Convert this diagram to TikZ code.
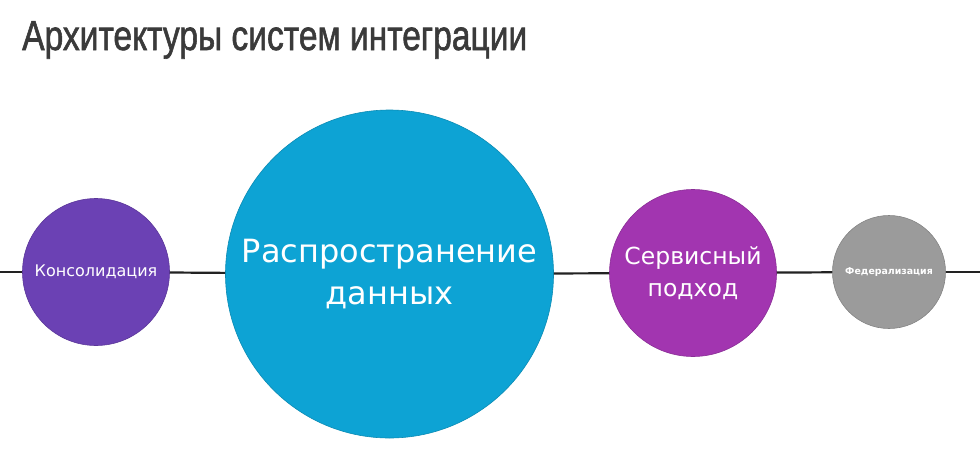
\documentclass[tikz,border=0pt]{standalone}
\usepackage{fontspec}
\setmainfont{DejaVu Sans}
\newfontfamily\titlefont[FakeBold=1.6]{Liberation Sans}
\definecolor{titlegray}{HTML}{3A3A3A}
\definecolor{konscol}{HTML}{6B41B4}
\definecolor{raspcol}{HTML}{0DA3D4}
\definecolor{servcol}{HTML}{A235B0}
\definecolor{fedcol}{HTML}{9B9B9B}
\definecolor{axiscol}{HTML}{222222}
\tikzset{
  bubble/.style={circle, inner sep=0pt, align=center, text=white, draw=#1!85!black, line width=0.6pt, fill=#1},
  axisline/.style={draw=axiscol, line width=2.2pt}
}
\begin{document}
\begin{tikzpicture}[x=1pt,y=-1pt]
\useasboundingbox (0,0) rectangle (980,461);

\node[anchor=base west, inner sep=0pt, text=titlegray] (title) at (22,50)
  {\resizebox{505pt}{\height}{\titlefont\fontsize{42}{42}\selectfont Архитектуры систем интеграции}};

\coordinate (lft) at (0,272);
\coordinate (rgt) at (980,272);

\node[bubble=konscol, minimum size=147pt, font=\fontsize{16}{19}\selectfont] (kons) at (96,272)
  {Консолидация};
\node[bubble=raspcol, minimum size=328pt, font=\fontsize{32}{42}\selectfont] (rasp) at (389.5,274)
  {Распространение\\ данных};
\node[bubble=servcol, minimum size=167pt, font=\fontsize{23.5}{32}\selectfont] (serv) at (693,273)
  {Сервисный\\ подход};
\node[bubble=fedcol, minimum size=113pt, font=\fontsize{9.4}{12}\selectfont\bfseries] (fed) at (889,272)
  {Федерализация};

\draw[axisline] (lft) -- (kons);
\draw[axisline] (kons) -- (rasp);
\draw[axisline] (rasp) -- (serv);
\draw[axisline] (serv) -- (fed);
\draw[axisline] (fed) -- (rgt);
\end{tikzpicture}
\end{document}
